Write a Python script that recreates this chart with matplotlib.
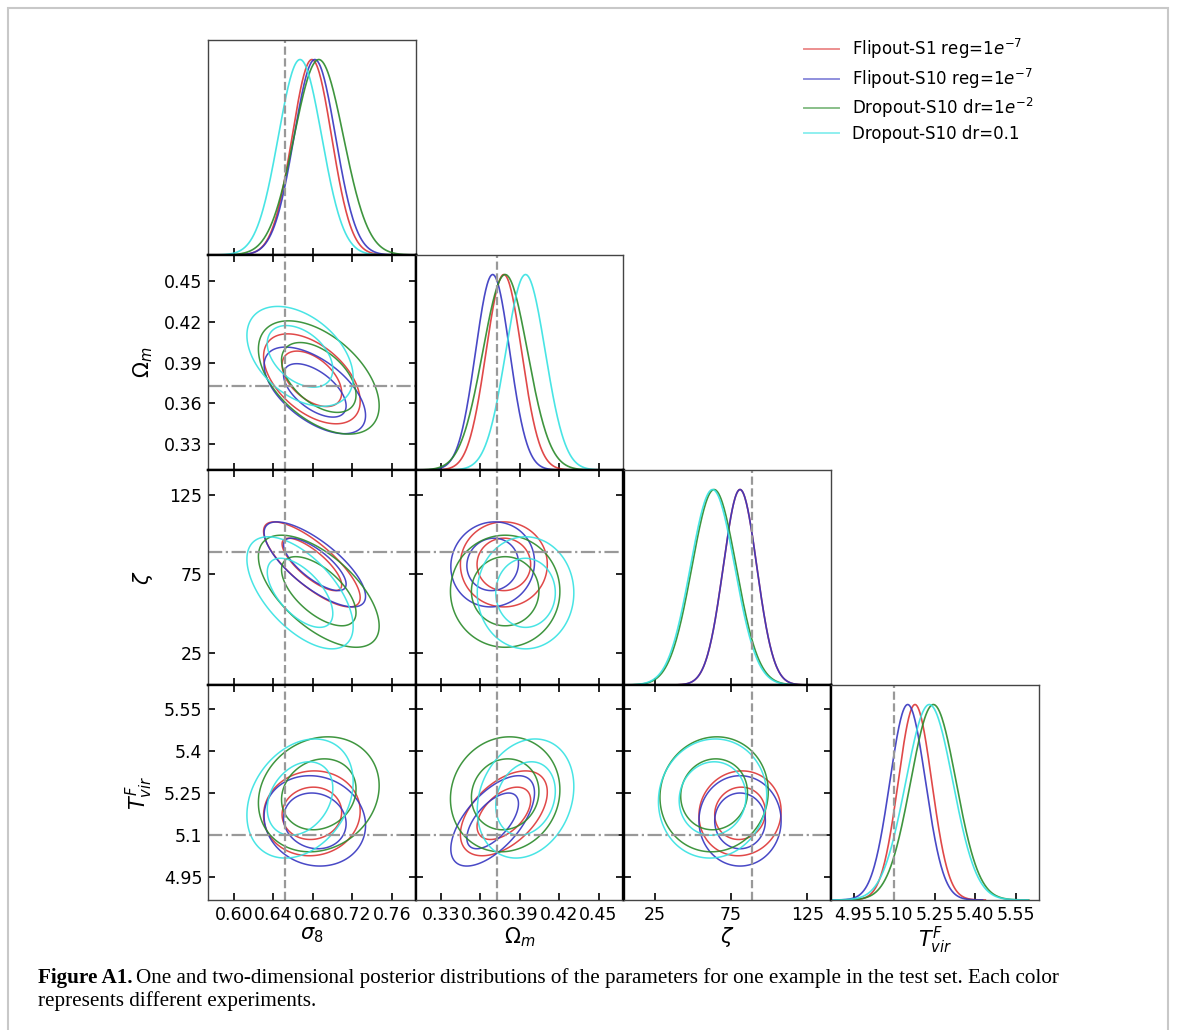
import numpy as np
import matplotlib
matplotlib.use('Agg')
import matplotlib.pyplot as plt
from matplotlib.lines import Line2D
from matplotlib.patches import Rectangle

# parameters of the triangle plot
axis_labels = [r'$\sigma_8$', r'$\Omega_m$', r'$\zeta$', r'$T^F_{vir}$']
truth = [0.6515, 0.3725, 89.0, 5.10]
ranges = [(0.5737, 0.7843), (0.311, 0.469), (4.6, 140.8), (4.867, 5.636)]
ticks = [[0.60, 0.64, 0.68, 0.72, 0.76],
         [0.33, 0.36, 0.39, 0.42, 0.45],
         [25, 75, 125],
         [4.95, 5.10, 5.25, 5.40, 5.55]]
xtick_labels = [['0.60', '0.64', '0.68', '0.72', '0.76'],
                ['0.33', '0.36', '0.39', '0.42', '0.45'],
                ['25', '75', '125'],
                ['4.95', '5.10', '5.25', '5.40', '5.55']]
ytick_labels = [None,
                ['0.33', '0.36', '0.39', '0.42', '0.45'],
                ['25', '75', '125'],
                ['4.95', '5.1', '5.25', '5.4', '5.55']]

# experiments (posterior mean / std)
runs = [r'Flipout-S1 reg=$1e^{-7}$', r'Flipout-S10 reg=$1e^{-7}$',
        r'Dropout-S10 dr=$1e^{-2}$', 'Dropout-S10 dr=0.1']
colors = ['#dd3535', '#3535c0', '#2a8a2a', '#35e2e2']

mean_red = [0.679, 0.378, 81.0, 5.177]
mean_blue = [0.682, 0.3695, 81.0, 5.150]
mean_green = [0.686, 0.379, 64.0, 5.245]
mean_cyan = [0.667, 0.3945, 63.0, 5.230]

sd_red = [0.020, 0.0135, 11.0, 0.062]
sd_blue = [0.021, 0.013, 11.0, 0.066]
sd_green = [0.025, 0.017, 14.5, 0.084]
sd_cyan = [0.022, 0.015, 14.5, 0.087]

# correlations for (row, col) pairs
rho_red = {(1, 0): -0.50, (2, 0): -0.78, (3, 0): 0.05, (2, 1): 0.00, (3, 1): 0.50, (3, 2): 0.05}
rho_blue = {(1, 0): -0.58, (2, 0): -0.75, (3, 0): -0.10, (2, 1): 0.05, (3, 1): 0.62, (3, 2): 0.00}
rho_green = {(1, 0): -0.50, (2, 0): -0.62, (3, 0): 0.15, (2, 1): 0.00, (3, 1): 0.08, (3, 2): 0.05}
rho_cyan = {(1, 0): -0.42, (2, 0): -0.60, (3, 0): 0.28, (2, 1): 0.00, (3, 1): 0.20, (3, 2): 0.05}

means = [mean_red, mean_blue, mean_green, mean_cyan]
sds = [sd_red, sd_blue, sd_green, sd_cyan]
rhos = [rho_red, rho_blue, rho_green, rho_cyan]

W, H = 1179, 1030
fig = plt.figure(figsize=(W / 100, H / 100), dpi=100)

n = 4
left0, top0 = 208, 40
pw, ph = 207.75, 215.0
tick_fs = 12.5
lab_fs = 15
line_c = '#999999'

axes = {}
for i in range(n):
    for j in range(i + 1):
        x0 = left0 + j * pw
        y0 = top0 + (i + 1) * ph
        ax = fig.add_axes([x0 / W, 1 - y0 / H, pw / W, ph / H])
        axes[(i, j)] = ax
        ax.set_xlim(ranges[j])
        ax.set_xticks(ticks[j])
        ax.tick_params(direction='in', length=5, width=1.2, labelsize=tick_fs, pad=4)

        if i == j:
            # 1D marginals
            for k in range(4):
                m, s = means[k][j], sds[k][j]
                xs = np.linspace(max(ranges[j][0], m - 4.2 * s), min(ranges[j][1], m + 4.2 * s), 300)
                ys = np.exp(-0.5 * ((xs - m) / s) ** 2)
                ax.plot(xs, ys, color=colors[k], lw=1.2, alpha=0.9)
            ax.set_ylim(0, 1.1)
            ax.set_yticks([])
            ax.axvline(truth[j], color=line_c, ls='--', lw=1.6)
            ax.tick_params(top=False, right=False, left=False)
        else:
            ax.set_ylim(ranges[i])
            ax.set_yticks(ticks[i])
            ax.tick_params(top=True, right=True)
            gx = np.linspace(ranges[j][0], ranges[j][1], 240)
            gy = np.linspace(ranges[i][0], ranges[i][1], 240)
            X, Y = np.meshgrid(gx, gy)
            for k in range(4):
                mx, my = means[k][j], means[k][i]
                sx, sy = sds[k][j], sds[k][i]
                r = rhos[k][(i, j)]
                u = (X - mx) / sx
                v = (Y - my) / sy
                d2 = (u ** 2 - 2 * r * u * v + v ** 2) / (1 - r ** 2)
                ax.contour(X, Y, d2, levels=[2.279, 5.991], colors=colors[k],
                           linewidths=1.1, alpha=0.9)
            ax.axvline(truth[j], color=line_c, ls='--', lw=1.6)
            ax.axhline(truth[i], color=line_c, ls='-.', lw=1.6)

        if i == n - 1:
            ax.set_xticklabels(xtick_labels[j])
            ax.set_xlabel(axis_labels[j], fontsize=lab_fs, labelpad=1)
        else:
            ax.set_xticklabels([])
        if j == 0 and i > 0:
            ax.set_yticklabels(ytick_labels[i])
            ax.set_ylabel(axis_labels[i], fontsize=lab_fs)
            ax.yaxis.set_label_coords(-0.255, 0.5)
        elif i != j:
            ax.set_yticklabels([])

        # shared edges look heavier
        shared = {'left': j > 0, 'right': j < i, 'top': i > j, 'bottom': i < n - 1}
        for side, sp in ax.spines.items():
            if shared[side]:
                sp.set_linewidth(1.7)
                sp.set_color('black')
            else:
                sp.set_linewidth(1.0)
                sp.set_color('#444444')

# legend
handles = [Line2D([], [], color=c, lw=1.4, alpha=0.55) for c in colors]
fig.legend(handles, runs, loc='upper left', bbox_to_anchor=(804 / W, 1 - 37 / H),
           frameon=False, fontsize=12, handlelength=2.1, handletextpad=0.75,
           labelspacing=0.32, borderpad=0, borderaxespad=0)

# caption
cap_font = 'Liberation Serif'
cap_fs = 15.2
t1 = fig.text(38 / W, 1 - 978 / H, 'Figure A1.', fontsize=cap_fs, fontweight='bold',
              family=cap_font, va='center', ha='left')
fig.canvas.draw()
bb = t1.get_window_extent()
fig.text((bb.x1 + 4) / W, 1 - 978 / H,
         'One and two-dimensional posterior distributions of the parameters for one example in the test set. Each color',
         fontsize=cap_fs, family=cap_font, va='center', ha='left')
fig.text(38 / W, 1 - 1001 / H, 'represents different experiments.', fontsize=cap_fs,
         family=cap_font, va='center', ha='left')

# page frame
fig.patches.append(Rectangle((8 / W, -0.01), 1160 / W, 1 - 8 / H + 0.01, transform=fig.transFigure,
                             fill=False, edgecolor='#c8c8c8', lw=1.5))

fig.savefig('out.png', dpi=100)
